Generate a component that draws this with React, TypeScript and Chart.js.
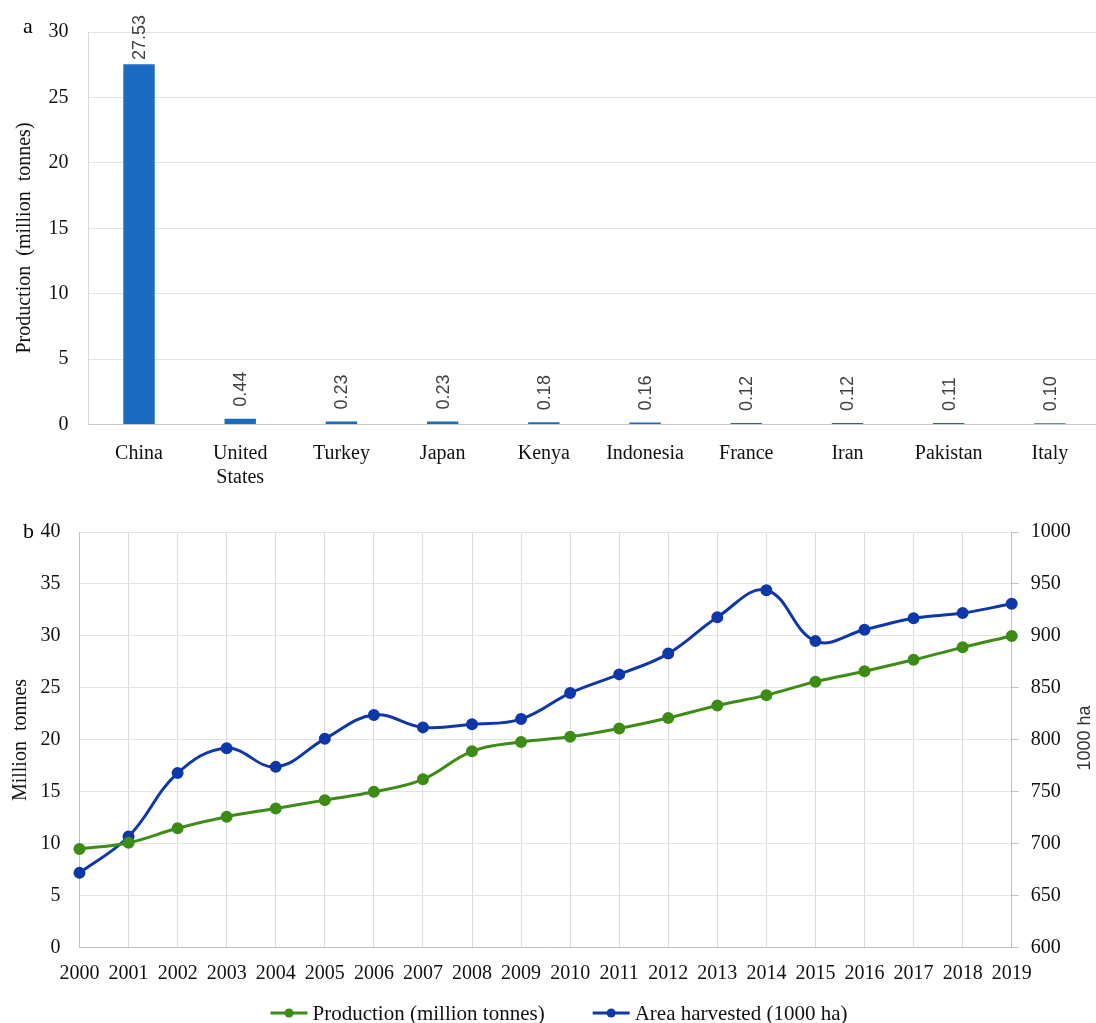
import React, { useEffect, useRef } from "react";
import { Chart, registerables } from "chart.js";

Chart.register(...registerables);

// ---------- Data ----------
const countries: (string | string[])[] = [
  "China",
  ["United", "States"],
  "Turkey",
  "Japan",
  "Kenya",
  "Indonesia",
  "France",
  "Iran",
  "Pakistan",
  "Italy",
];
const countryProduction = [27.53, 0.44, 0.23, 0.23, 0.18, 0.16, 0.12, 0.12, 0.11, 0.1];

const years = [
  "2000", "2001", "2002", "2003", "2004", "2005", "2006", "2007", "2008", "2009",
  "2010", "2011", "2012", "2013", "2014", "2015", "2016", "2017", "2018", "2019",
];
const productionMt = [
  9.5, 10.1, 11.5, 12.6, 13.4, 14.2, 15.0, 16.2, 18.9, 19.8,
  20.3, 21.1, 22.1, 23.3, 24.3, 25.6, 26.6, 27.7, 28.9, 30.0,
];
const areaHarvested = [
  672, 707, 768, 792, 774, 801, 824, 812, 815, 820,
  845, 863, 883, 918, 944, 895, 906, 917, 922, 931,
];

const legendLabels = ["Production (million tonnes)", "Area harvested (1000 ha)"];

// ---------- Styles ----------
const SERIF = "'Liberation Serif', 'Times New Roman', serif";
const SANS = "'Liberation Sans', Arial, sans-serif";
const BAR = "#1A6BC1";
const GREEN = "#3C8C15";
const BLUE = "#0E38AA";
const TXT = "#111111";

const W_A = 1110;
const H_A = 500;
const W_B = 1096;
const H_B = 523;

const plainTick = (v: any) => String(v);

const panelAPlugin = {
  id: "panelA",
  afterDatasetsDraw(chart: any) {
    const ctx = chart.ctx;
    const meta = chart.getDatasetMeta(0);
    ctx.save();
    ctx.font = `18px ${SANS}`;
    ctx.fillStyle = "#404040";
    ctx.textAlign = "left";
    ctx.textBaseline = "middle";
    meta.data.forEach((bar: any, i: number) => {
      const txt = countryProduction[i].toFixed(2);
      const w = ctx.measureText(txt).width;
      let start = bar.y - 12;
      if (start - w < 15) start = 15 + w;
      ctx.save();
      ctx.translate(bar.x + 1, start);
      ctx.rotate(-Math.PI / 2);
      ctx.fillText(txt, 0, 0);
      ctx.restore();
    });
    ctx.restore();
  },
  afterDraw(chart: any) {
    const ctx = chart.ctx;
    ctx.save();
    ctx.fillStyle = "#000";
    ctx.font = `22px ${SERIF}`;
    ctx.textAlign = "left";
    ctx.textBaseline = "alphabetic";
    ctx.fillText("a", 23, 33);
    ctx.font = `20px ${SERIF}`;
    ctx.fillStyle = TXT;
    ctx.textAlign = "center";
    ctx.textBaseline = "middle";
    ctx.translate(25, 238);
    ctx.rotate(-Math.PI / 2);
    ctx.fillText("Production  (million  tonnes)", 0, 0);
    ctx.restore();
  },
};

const panelBPlugin = {
  id: "panelB",
  afterDraw(chart: any) {
    const ctx = chart.ctx;
    ctx.save();
    ctx.fillStyle = "#000";
    ctx.font = `22px ${SERIF}`;
    ctx.textAlign = "left";
    ctx.textBaseline = "alphabetic";
    ctx.fillText("b", 23, 38);

    // left title
    ctx.fillStyle = TXT;
    ctx.font = `20px ${SERIF}`;
    ctx.textAlign = "center";
    ctx.textBaseline = "middle";
    ctx.save();
    ctx.translate(21, 240);
    ctx.rotate(-Math.PI / 2);
    ctx.fillText("Million  tonnes", 0, 0);
    ctx.restore();

    // right title
    ctx.save();
    ctx.font = `18px ${SANS}`;
    ctx.fillStyle = "#333";
    ctx.translate(1085, 238);
    ctx.rotate(-Math.PI / 2);
    ctx.fillText("1000 ha", 0, 0);
    ctx.restore();

    // legend
    const colors = [GREEN, BLUE];
    ctx.font = `21px ${SERIF}`;
    const lineW = 37;
    const gapT = 5;
    const gapItems = 48;
    const widths = legendLabels.map((l) => lineW + gapT + ctx.measureText(l).width);
    const total = widths[0] + gapItems + widths[1];
    let x = 559 - total / 2;
    const lineY = 513;
    const baseY = 519.5;
    legendLabels.forEach((label, i) => {
      ctx.strokeStyle = colors[i];
      ctx.lineWidth = 3;
      ctx.beginPath();
      ctx.moveTo(x, lineY);
      ctx.lineTo(x + lineW, lineY);
      ctx.stroke();
      ctx.fillStyle = colors[i];
      ctx.beginPath();
      ctx.arc(x + lineW / 2, lineY, 4.5, 0, Math.PI * 2);
      ctx.fill();
      ctx.fillStyle = TXT;
      ctx.textAlign = "left";
      ctx.textBaseline = "alphabetic";
      ctx.fillText(label, x + lineW + gapT, baseY);
      x += widths[i] + gapItems;
    });
    ctx.restore();
  },
};

export default function App() {
  const refA = useRef<HTMLCanvasElement | null>(null);
  const refB = useRef<HTMLCanvasElement | null>(null);

  useEffect(() => {
    const chartA = new Chart(refA.current as HTMLCanvasElement, {
      type: "bar",
      data: {
        labels: countries as any,
        datasets: [
          {
            data: countryProduction,
            backgroundColor: BAR,
            borderWidth: 0,
            categoryPercentage: 1,
            barPercentage: 0.31,
          },
        ],
      },
      options: {
        animation: false,
        responsive: false,
        devicePixelRatio: 1,
        layout: { padding: { top: 29, right: 9.5, left: 0, bottom: 0 } },
        plugins: { legend: { display: false }, tooltip: { enabled: false } },
        scales: {
          x: {
            grid: { display: false, drawTicks: false },
            border: { display: true, color: "#c8c8c8", width: 1 },
            ticks: {
              font: { family: SERIF, size: 20 },
              color: TXT,
              padding: 17,
              maxRotation: 0,
              autoSkip: false,
            },
            afterFit: (s: any) => {
              s.height = 75.5;
            },
          },
          y: {
            min: 0,
            max: 30,
            ticks: {
              stepSize: 5,
              font: { family: SERIF, size: 20 },
              color: TXT,
              padding: 20,
              callback: plainTick,
            },
            grid: { color: "#e3e3e3", drawTicks: false },
            border: { display: true, color: "#d9d9d9" },
            afterFit: (s: any) => {
              s.width = 88.4;
            },
          },
        },
      },
      plugins: [panelAPlugin],
    });

    const chartB = new Chart(refB.current as HTMLCanvasElement, {
      type: "line",
      data: {
        labels: years,
        datasets: [
          {
            label: legendLabels[0],
            data: productionMt,
            yAxisID: "y",
            borderColor: GREEN,
            backgroundColor: GREEN,
            pointBackgroundColor: GREEN,
            pointBorderColor: GREEN,
            borderWidth: 3,
            pointRadius: 4.5,
            tension: 0.4,
          },
          {
            label: legendLabels[1],
            data: areaHarvested,
            yAxisID: "y1",
            borderColor: BLUE,
            backgroundColor: BLUE,
            pointBackgroundColor: BLUE,
            pointBorderColor: BLUE,
            borderWidth: 3,
            pointRadius: 4.5,
            tension: 0.4,
          },
        ],
      },
      options: {
        animation: false,
        responsive: false,
        devicePixelRatio: 1,
        layout: { padding: { top: 32, bottom: 40, left: 0, right: 0 } },
        plugins: { legend: { display: false }, tooltip: { enabled: false } },
        scales: {
          x: {
            offset: false,
            grid: { color: "#dcdcdc", drawTicks: false },
            border: { display: true, color: "#bfbfbf" },
            ticks: {
              font: { family: SERIF, size: 20 },
              color: TXT,
              padding: 14,
              maxRotation: 0,
              autoSkip: false,
            },
            afterFit: (s: any) => {
              s.height = 35.3;
            },
          },
          y: {
            position: "left",
            min: 0,
            max: 40,
            ticks: {
              stepSize: 5,
              font: { family: SERIF, size: 20 },
              color: TXT,
              padding: 19,
              callback: plainTick,
            },
            grid: { color: "#e3e3e3", drawTicks: false },
            border: { display: true, color: "#bfbfbf" },
            afterFit: (s: any) => {
              s.width = 79.5;
            },
          },
          y1: {
            position: "right",
            min: 600,
            max: 1000,
            ticks: {
              stepSize: 50,
              font: { family: SERIF, size: 20 },
              color: TXT,
              padding: 12,
              callback: plainTick,
            },
            grid: { drawOnChartArea: false, drawTicks: true, tickLength: 7, color: "#bfbfbf" },
            border: { display: true, color: "#bfbfbf" },
            afterFit: (s: any) => {
              s.width = 84.3;
            },
          },
        },
      },
      plugins: [panelBPlugin],
    });

    return () => {
      chartA.destroy();
      chartB.destroy();
    };
  }, []);

  return (
    <div
      style={{
        position: "absolute",
        left: 0,
        top: 0,
        width: 1096,
        height: 1023,
        overflow: "hidden",
        background: "#fff",
      }}
    >
      <canvas
        ref={refA}
        width={W_A}
        height={H_A}
        style={{ position: "absolute", left: 0, top: 0, width: W_A, height: H_A }}
      />
      <canvas
        ref={refB}
        width={W_B}
        height={H_B}
        style={{ position: "absolute", left: 0, top: 500, width: W_B, height: H_B }}
      />
    </div>
  );
}
